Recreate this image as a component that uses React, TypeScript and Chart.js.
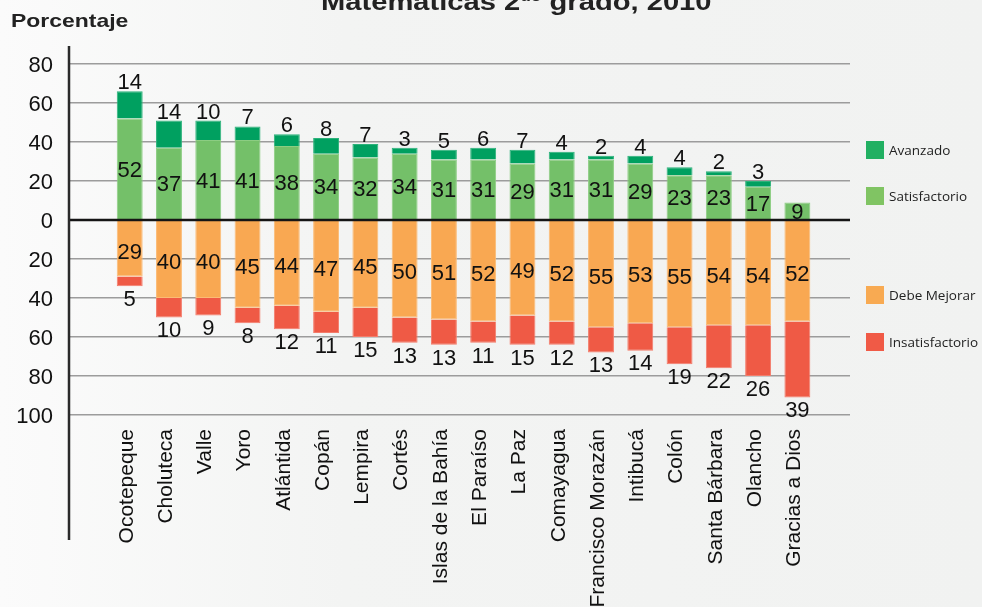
import React, { useEffect, useRef } from "react";
import { Chart, registerables } from "chart.js";

Chart.register(...registerables);

const categories = [
  "Ocotepeque", "Choluteca", "Valle", "Yoro", "Atlántida", "Copán", "Lempira", "Cortés",
  "Islas de la Bahía", "El Paraíso", "La Paz", "Comayagua", "Francisco Morazán", "Intibucá",
  "Colón", "Santa Bárbara", "Olancho", "Gracias a Dios",
];
const avanzado = [14, 14, 10, 7, 6, 8, 7, 3, 5, 6, 7, 4, 2, 4, 4, 2, 3, 0];
const satisfactorio = [52, 37, 41, 41, 38, 34, 32, 34, 31, 31, 29, 31, 31, 29, 23, 23, 17, 9];
const debeMejorar = [29, 40, 40, 45, 44, 47, 45, 50, 51, 52, 49, 52, 55, 53, 55, 54, 54, 52];
const insatisfactorio = [5, 10, 9, 8, 12, 11, 15, 13, 13, 11, 15, 12, 13, 14, 19, 22, 26, 39];
const yMin = -100;
const yMax = 80;
const yStep = 20;

const legendItems = [
  { label: "Avanzado", color: "#21b062", cy: 150 },
  { label: "Satisfactorio", color: "#80c463", cy: 196 },
  { label: "Debe Mejorar", color: "#f8aa52", cy: 295 },
  { label: "Insatisfactorio", color: "#f05a46", cy: 342 },
];

const NUM_FONT = '22px "Liberation Sans", Arial, sans-serif';

const overlay = {
  id: "overlay",
  afterDatasetsDraw(chart: any) {
    const ctx = chart.ctx;
    const { left, right } = chart.chartArea;
    const y0 = chart.scales.y.getPixelForValue(0);
    ctx.save();
    // zero line
    ctx.strokeStyle = "#151515";
    ctx.lineWidth = 2.5;
    ctx.beginPath();
    ctx.moveTo(left, y0);
    ctx.lineTo(right, y0);
    ctx.stroke();
    // y axis line
    ctx.strokeStyle = "#2a2a2a";
    ctx.lineWidth = 2.5;
    ctx.beginPath();
    ctx.moveTo(left, 46);
    ctx.lineTo(left, 540);
    ctx.stroke();

    // data labels
    ctx.fillStyle = "#111";
    ctx.font = NUM_FONT;
    ctx.textAlign = "center";
    ctx.textBaseline = "alphabetic";
    const cap = 15.7;
    const metaSat = chart.getDatasetMeta(0);
    const metaAv = chart.getDatasetMeta(1);
    const metaDm = chart.getDatasetMeta(2);
    const metaIn = chart.getDatasetMeta(3);
    categories.forEach((_, i) => {
      const s = metaSat.data[i];
      ctx.fillText(String(satisfactorio[i]), s.x, (s.y + s.base) / 2 + cap / 2);
      const a = metaAv.data[i];
      if (avanzado[i] > 0) ctx.fillText(String(avanzado[i]), a.x, a.y - 2);
      const d = metaDm.data[i];
      ctx.fillText(String(debeMejorar[i]), d.x, (d.y + d.base) / 2 + cap / 2 + 2);
      const n = metaIn.data[i];
      ctx.fillText(String(insatisfactorio[i]), n.x, n.y + 4 + cap);
    });

    // legend
    ctx.textAlign = "left";
    ctx.textBaseline = "middle";
    ctx.font = '13.5px "Open Sans", sans-serif';
    legendItems.forEach((it) => {
      ctx.fillStyle = it.color;
      ctx.fillRect(866, it.cy - 9, 18, 18);
      ctx.fillStyle = "#222";
      ctx.fillText(it.label, 889, it.cy + 1);
    });

    // y axis title
    ctx.textBaseline = "alphabetic";
    ctx.fillStyle = "#222";
    ctx.save();
    ctx.translate(11, 27.3);
    ctx.scale(1.24, 1);
    ctx.font = 'bold 18.5px "Liberation Sans", Arial, sans-serif';
    ctx.fillText("Porcentaje", 0, 0);
    ctx.restore();

    // chart title (cropped at top)
    ctx.save();
    ctx.translate(321, 10);
    ctx.scale(1.24, 1);
    ctx.font = 'bold 23.5px "Liberation Sans", Arial, sans-serif';
    let x = 0;
    const p1 = "Matemáticas 2";
    ctx.fillText(p1, x, 0);
    x += ctx.measureText(p1).width;
    ctx.font = 'bold 14px "Liberation Sans", Arial, sans-serif';
    ctx.fillText("do", x, -9);
    x += ctx.measureText("do").width;
    ctx.font = 'bold 23.5px "Liberation Sans", Arial, sans-serif';
    ctx.fillText(" grado, 2010", x, 0);
    ctx.restore();

    ctx.restore();
  },
};

export default function App() {
  const ref = useRef<HTMLCanvasElement | null>(null);
  useEffect(() => {
    if (!ref.current) return;
    const mk = (arr: number[], sign: number) => arr.map((v, i) => ({ x: i, y: sign * v }));
    const chart = new Chart(ref.current, {
      type: "bar",
      data: {
        datasets: [
          { label: "Satisfactorio", data: mk(satisfactorio, 1), backgroundColor: "#74c069", borderColor: "#8ccd82", borderWidth: 1 },
          { label: "Avanzado", data: mk(avanzado, 1), backgroundColor: "#00a060", borderColor: "#2cb27a", borderWidth: 1 },
          { label: "Debe Mejorar", data: mk(debeMejorar, -1), backgroundColor: "#f9a852", borderColor: "#fbbb75", borderWidth: 1 },
          { label: "Insatisfactorio", data: mk(insatisfactorio, -1), backgroundColor: "#ef5a45", borderColor: "#f37c6b", borderWidth: 1 },
        ] as any,
      },
      options: {
        animation: false,
        responsive: false,
        layout: { padding: { top: 64, right: 132, left: 0, bottom: 0 } },
        datasets: { bar: { barPercentage: 0.66, categoryPercentage: 1 } } as any,
        plugins: { legend: { display: false }, tooltip: { enabled: false }, title: { display: false } },
        scales: {
          x: {
            type: "linear",
            stacked: true,
            offset: false,
            min: -1.546,
            max: 18.34,
            grid: { display: false, drawTicks: false, offset: false },
            border: { display: false },
            ticks: {
              stepSize: 1,
              includeBounds: false,
              autoSkip: false,
              minRotation: 90,
              maxRotation: 90,
              padding: 14,
              labelOffset: -3,
              color: "#111",
              font: { family: '"Liberation Sans", Arial, sans-serif', size: 21 },
              callback: (v: any) => {
                const n = Number(v);
                return Number.isInteger(n) && n >= 0 && n < categories.length ? categories[n] : "";
              },
            },
            afterFit: (s: any) => {
              s.height = 607 - 415;
            },
          } as any,
          y: {
            stacked: true,
            min: yMin,
            max: yMax,
            grid: {
              drawTicks: false,
              color: "#9c9c9c",
              lineWidth: 1.5,
            },
            border: { display: false },
            ticks: {
              stepSize: yStep,
              padding: 16,
              labelOffset: 2,
              color: "#111",
              font: { family: '"Liberation Sans", Arial, sans-serif', size: 22 },
              callback: (v: any) => String(Math.abs(Number(v))),
            },
            afterFit: (s: any) => {
              s.width = 69;
            },
          } as any,
        },
      },
      plugins: [overlay],
    });
    return () => chart.destroy();
  }, []);
  return (
    <div
      style={{
        position: "absolute",
        left: 0,
        top: 0,
        width: 982,
        height: 607,
        overflow: "hidden",
        background: "linear-gradient(to right, #fbfbfb 0%, #f3f4f3 35%, #f1f2f1 100%)",
      }}
    >
      <canvas ref={ref} width={982} height={607} style={{ width: 982, height: 607, display: "block" }} />
    </div>
  );
}
